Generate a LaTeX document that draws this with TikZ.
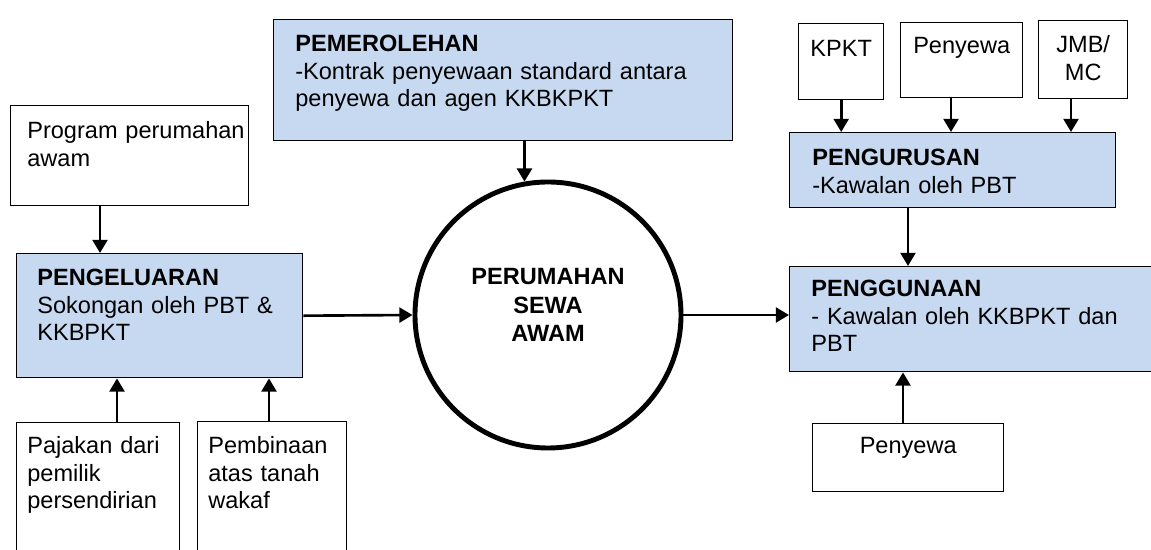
\documentclass[tikz,border=0pt]{standalone}
\usepackage{fontspec}
\setmainfont{Liberation Sans}
\usepackage{xcolor}
\usetikzlibrary{arrows.meta,shapes}
\definecolor{lblue}{HTML}{C6D9F1}
\tikzstyle{box}=[rectangle, draw=black, line width=0.8pt, anchor=north west, inner sep=0pt]
\tikzstyle{bbox}=[box, fill=lblue]
\tikzstyle{txt}=[inner sep=0pt, anchor=base west, align=left, font=\fontsize{13.4}{15.65}\selectfont]
\tikzstyle{ctxt}=[txt, anchor=base, align=center]
\tikzstyle{l1}=[line width=1.5pt, -{Triangle[length=7.5pt,width=8.5pt]}]

\begin{document}
\begin{tikzpicture}
    \useasboundingbox (0,0) rectangle (23.02,11);
    \clip (0,0) rectangle (23.02,11);

    % left side
    \node (prog) [box, minimum width=4.76cm, minimum height=2cm] at (0.2,8.9) {};
    \node (peng) [bbox, minimum width=5.72cm, minimum height=2.48cm] at (0.32,5.94) {};
    \node (pajak) [box, minimum width=3.26cm, minimum height=2.8cm] at (0.32,2.56) {};
    \node (bina) [box, minimum width=2.98cm, minimum height=2.8cm] at (3.94,2.58) {};
    \node (progt) [txt, text width=4.6cm] at (0.54,8.22) {Program perumahan\\awam};
    \node (pengt) [txt, text width=5.2cm] at (0.74,5.28) {\textbf{PENGELUARAN}\\Sokongan oleh PBT \&\\KKBPKT};
    \node (pajakt) [txt, text width=3cm] at (0.54,1.92) {Pajakan dari\\pemilik\\persendirian};
    \node (binat) [txt, text width=2.8cm] at (4.16,1.92) {Pembinaan\\atas tanah\\wakaf};

    % middle
    \node (pemer) [bbox, minimum width=9.18cm, minimum height=2.42cm] at (5.46,10.62) {};
    \node (pemert) [txt, text width=8.7cm] at (5.9,9.96) {\textbf{PEMEROLEHAN}\\-Kontrak penyewaan standard antara\\penyewa dan agen KKBKPKT};
    \node (circ) [circle, draw=black, line width=2.8pt, minimum size=5.32cm, inner sep=0pt] at (10.96,4.7) {};
    \node (circt) [ctxt, text width=5cm, font=\bfseries\fontsize{13.4}{16.2}\selectfont]
        at (circ.center |- 0,5.3) {PERUMAHAN\\SEWA\\AWAM};

    % right side
    \node (kpkt) [box, minimum width=1.7cm, minimum height=1.52cm] at (15.96,10.54) {};
    \node (pyw1) [box, minimum width=2.44cm, minimum height=1.5cm] at (18,10.56) {};
    \node (jmb) [box, minimum width=1.78cm, minimum height=1.56cm] at (20.76,10.6) {};
    \node (pengur) [bbox, minimum width=6.52cm, minimum height=1.5cm] at (15.78,8.36) {};
    \node (pengg) [bbox, minimum width=7.42cm, minimum height=2.1cm] at (15.78,5.68) {};
    \node (pyw2) [box, minimum width=3.82cm, minimum height=1.36cm] at (16.24,2.54) {};
    \node (kpktt) [ctxt, text width=1.7cm] at (kpkt.north |- 0,9.86) {KPKT};
    \node (pyw1t) [ctxt, text width=2.44cm] at (pyw1.north |- 0,9.92) {Penyewa};
    \node (jmbt) [ctxt, text width=1.78cm] at (jmb.north |- 0,9.94) {JMB/\\MC};
    \node (pengurt) [txt, text width=6cm] at (16.24,7.68) {\textbf{PENGURUSAN}\\-Kawalan oleh PBT};
    \node (penggt) [txt, text width=6.8cm] at (16.22,5.06) {\textbf{PENGGUNAAN}\\- Kawalan oleh KKBPKT dan\\PBT};
    \node (pyw2t) [ctxt, text width=3.82cm] at (pyw2.north |- 0,1.92) {Penyewa};

    % arrows
    \draw[l1] (2,0 |- prog.south) -- (2,0 |- peng.north);
    \draw[l1] (2.34,0 |- pajak.north) -- (2.34,0 |- peng.south);
    \draw[l1] (5.38,0 |- bina.north) -- (5.38,0 |- peng.south);
    \draw[l1] (peng.east) -- (circ.west);
    \draw[l1] (pemer.south -| circ.100) -- (circ.100);
    \draw[l1] (circ.east) -- (circ.east -| pengg.west);
    \draw[l1] (kpkt.south) -- (kpkt.south |- pengur.north);
    \draw[l1] (19.02,0 |- pyw1.south) -- (19.02,0 |- pengur.north);
    \draw[l1] (21.42,0 |- jmb.south) -- (21.42,0 |- pengur.north);
    \draw[l1] (18.16,0 |- pengur.south) -- (18.16,0 |- pengg.north);
    \draw[l1] (18.06,0 |- pyw2.north) -- (18.06,0 |- pengg.south);
\end{tikzpicture}
\end{document}
